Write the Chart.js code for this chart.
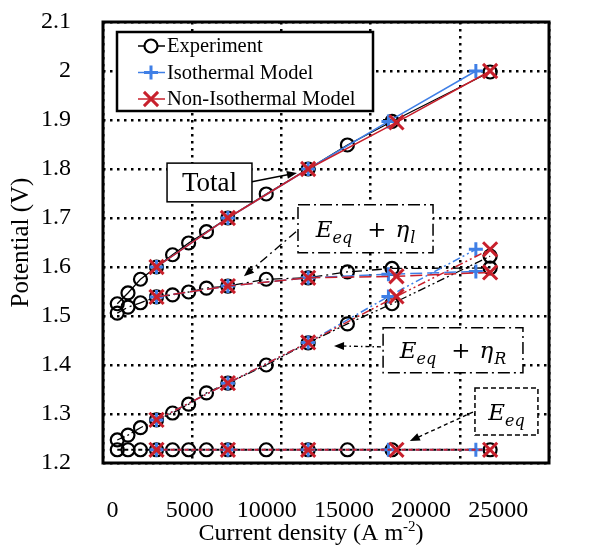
<!DOCTYPE html>
<html>
<head>
<meta charset="utf-8">
<script src="https://cdn.jsdelivr.net/npm/chart.js@4.4.1/dist/chart.umd.min.js"></script>
<style>
    html, body { margin: 0; padding: 0; background: #fff; }
</style>
</head>
<body>
<canvas id="myChart" width="589" height="547"></canvas>
<script>
// Current density (A m-2) of the measured points and of both models
const expCurrent = [800, 1400, 2100, 3000, 3900, 4800, 5800, 7000, 9150, 11500, 13700, 16200, 21700];
const isoCurrent = [3000, 7000, 11500, 16000, 20900];
const nonIsoCurrent = [3000, 7000, 11500, 16450, 21700];

// Potential (V): total cell voltage
const expTotal = [1.525, 1.547, 1.575, 1.600, 1.625, 1.649, 1.672, 1.700, 1.749, 1.800, 1.849, 1.897, 1.998];
const isoTotal = [1.600, 1.700, 1.800, 1.897, 2.000];
const nonIsoTotal = [1.600, 1.700, 1.800, 1.895, 2.000];

// Eeq + ohmic overpotential
const expOhmic = [1.506, 1.518, 1.527, 1.539, 1.543, 1.549, 1.557, 1.561, 1.575, 1.578, 1.590, 1.597, 1.598];
const isoOhmic = [1.539, 1.561, 1.578, 1.585, 1.591];
const nonIsoOhmic = [1.539, 1.561, 1.578, 1.581, 1.589];

// Eeq + reaction overpotential
const expReaction = [1.247, 1.257, 1.272, 1.288, 1.302, 1.320, 1.343, 1.363, 1.400, 1.445, 1.484, 1.525, 1.622];
const isoReaction = [1.288, 1.363, 1.446, 1.540, 1.636];
const nonIsoReaction = [1.288, 1.363, 1.446, 1.540, 1.636];

// Equilibrium potential
const expEq = [1.227, 1.227, 1.227, 1.227, 1.227, 1.227, 1.227, 1.227, 1.227, 1.227, 1.227, 1.227, 1.227];
const isoEq = [1.227, 1.227, 1.227, 1.227, 1.227];
const nonIsoEq = [1.227, 1.227, 1.227, 1.227, 1.227];

const xTickValues = [0, 5000, 10000, 15000, 20000, 25000];
const xTickLabels = ['0', '5000', '10000', '15000', '20000', '25000'];
const yTickValues = [1.2, 1.3, 1.4, 1.5, 1.6, 1.7, 1.8, 1.9, 2.0, 2.1];
const yTickLabels = ['1.2', '1.3', '1.4', '1.5', '1.6', '1.7', '1.8', '1.9', '2', '2.1'];

const seriesNames = ['Experiment', 'Isothermal Model', 'Non-Isothermal Model'];

const BLACK = '#000000';
const BLUE = '#3f7fe6';
const RED = '#c8202c';
const SERIF = '"Liberation Serif", "Times New Roman", serif';
const MATH = '"DejaVu Serif", serif';

const points = (xs, ys) => xs.map((x, i) => ({ x: x, y: ys[i] }));

// Four groups of curves, each with experiment + two models
const groups = [
    { exp: expTotal, iso: isoTotal, nonIso: nonIsoTotal, expDash: [], modelDash: [], width: 1.5 },
    { exp: expOhmic, iso: isoOhmic, nonIso: nonIsoOhmic, expDash: [10, 4, 2, 4], modelDash: [12, 5], width: 1.5 },
    { exp: expReaction, iso: isoReaction, nonIso: nonIsoReaction, expDash: [8, 3, 2, 3, 2, 3], modelDash: [8, 3, 2, 3, 2, 3], width: 1.5 },
    { exp: expEq, iso: isoEq, nonIso: nonIsoEq, expDash: [4, 3], modelDash: [4, 3], width: 2 }
];

// marker styles shared by the legend
const styles = [
    { color: BLACK, pointStyle: 'circle', radius: 6.5, pointWidth: 2.2 },
    { color: BLUE, pointStyle: 'cross', radius: 7, pointWidth: 3 },
    { color: RED, pointStyle: 'crossRot', radius: 10, pointWidth: 3 }
];

const datasets = [];
groups.forEach(g => {
    const sets = [
        { xs: expCurrent, ys: g.exp, dash: g.expDash, order: 3 },
        { xs: isoCurrent, ys: g.iso, dash: g.modelDash, order: 2 },
        { xs: nonIsoCurrent, ys: g.nonIso, dash: g.modelDash, order: 1 }
    ];
    sets.forEach((s, k) => {
        const st = styles[k];
        datasets.push({
            label: seriesNames[k],
            data: points(s.xs, s.ys),
            showLine: true,
            borderColor: st.color,
            borderWidth: k === 0 ? g.width - 0.2 : g.width,
            borderDash: s.dash,
            pointStyle: st.pointStyle,
            pointRadius: st.radius,
            pointBorderWidth: st.pointWidth,
            pointBorderColor: st.color,
            pointBackgroundColor: 'rgba(0,0,0,0)',
            order: s.order
        });
    });
});

// Boxed labels with arrows, positioned in data units
const callouts = [
    { box: [3590, 1.812, 8350, 1.733], dash: [], text: 'Total', arrow: [8350, 1.774, 10870, 1.792], arrowDash: [] },
    { box: [10930, 1.727, 18500, 1.629], dash: [12, 4, 2, 4], math: ['E', 'eq', 'η', 'l'], arrow: [10820, 1.672, 7900, 1.581], arrowDash: [9, 4, 2, 4] },
    { box: [15700, 1.476, 23540, 1.384], dash: [12, 4, 2, 4], math: ['E', 'eq', 'η', 'R'], arrow: [15580, 1.437, 12950, 1.439], arrowDash: [4, 3, 1.5, 3] },
    { box: [20850, 1.353, 24380, 1.257], dash: [5, 3], math: ['E', 'eq'], arrow: [20740, 1.304, 17200, 1.245], arrowDash: [4, 3] }
];

function drawArrow(c, x1, y1, x2, y2, dash) {
    const a = Math.atan2(y2 - y1, x2 - x1);
    const len = 10, half = 4;
    c.save();
    c.lineWidth = 1.4;
    c.setLineDash(dash);
    c.beginPath();
    c.moveTo(x1, y1);
    c.lineTo(x2 - Math.cos(a) * len * 0.7, y2 - Math.sin(a) * len * 0.7);
    c.stroke();
    c.setLineDash([]);
    c.beginPath();
    c.moveTo(x2, y2);
    c.lineTo(x2 - len * Math.cos(a) + half * Math.sin(a), y2 - len * Math.sin(a) - half * Math.cos(a));
    c.lineTo(x2 - len * Math.cos(a) - half * Math.sin(a), y2 - len * Math.sin(a) + half * Math.cos(a));
    c.closePath();
    c.fill();
    c.restore();
}

// E_eq (+ eta_x) written with subscripts
function drawMath(c, parts, cx, cy) {
    const main = 'italic 23px ' + MATH;
    const sub = 'italic 16px ' + MATH;
    const runs = [
        { t: parts[0], font: main, dy: 0, gap: 0 },
        { t: parts[1], font: sub, dy: 6, gap: 0 }
    ];
    if (parts.length > 2) {
        runs.push({ t: '+', font: '23px ' + MATH, dy: 0, gap: 15 });
        runs.push({ t: parts[2], font: main, dy: 0, gap: 9 });
        runs.push({ t: parts[3], font: sub, dy: 6, gap: 1 });
    }
    let w = 0;
    runs.forEach(r => { c.font = r.font; r.w = c.measureText(r.t).width; w += r.w + r.gap; });
    let x = cx - w / 2;
    c.textBaseline = 'alphabetic';
    c.textAlign = 'left';
    runs.forEach(r => {
        x += r.gap;
        c.font = r.font;
        c.fillText(r.t, x, cy + 8 + r.dy);
        x += r.w;
    });
}

function drawMarker(c, k, x, y) {
    const st = styles[k];
    Chart.helpers.drawPoint(c, { pointStyle: st.pointStyle, radius: st.radius, borderWidth: st.pointWidth, rotation: 0 }, x, y);
}

const decorations = {
    id: 'decorations',
    afterDatasetsDraw(chart) {
        const c = chart.ctx;
        const area = chart.chartArea;
        const xs = chart.scales.x, ys = chart.scales.y;
        c.save();

        // plot frame
        c.strokeStyle = BLACK;
        c.lineWidth = 3;
        c.strokeRect(area.left, area.top, area.right - area.left, area.bottom - area.top);

        // callout boxes and arrows
        callouts.forEach(co => {
            const l = xs.getPixelForValue(co.box[0]), t = ys.getPixelForValue(co.box[1]);
            const r = xs.getPixelForValue(co.box[2]), b = ys.getPixelForValue(co.box[3]);
            c.fillStyle = '#fff';
            c.fillRect(l, t, r - l, b - t);
            c.strokeStyle = BLACK;
            c.lineWidth = 1.5;
            c.setLineDash(co.dash);
            c.strokeRect(l, t, r - l, b - t);
            c.setLineDash([]);
            c.fillStyle = BLACK;
            if (co.text) {
                c.font = '27px ' + SERIF;
                c.textAlign = 'center';
                c.textBaseline = 'middle';
                c.fillText(co.text, (l + r) / 2, (t + b) / 2 + 1);
            } else {
                drawMath(c, co.math, (l + r) / 2, (t + b) / 2);
            }
            drawArrow(c, xs.getPixelForValue(co.arrow[0]), ys.getPixelForValue(co.arrow[1]),
                xs.getPixelForValue(co.arrow[2]), ys.getPixelForValue(co.arrow[3]), co.arrowDash);
        });

        // legend box
        const lx = area.left + 14, ly = area.top + 10, lw = 256, lh = 79;
        c.fillStyle = '#fff';
        c.fillRect(lx, ly, lw, lh);
        c.strokeStyle = BLACK;
        c.lineWidth = 2.5;
        c.strokeRect(lx, ly, lw, lh);
        seriesNames.forEach((name, k) => {
            const y = ly + 14 + k * 26.5;
            const st = styles[k];
            c.strokeStyle = st.color;
            c.lineWidth = 1.5;
            c.beginPath();
            c.moveTo(lx + 21, y);
            c.lineTo(lx + 48, y);
            c.stroke();
            c.save();
            c.strokeStyle = st.color;
            c.lineWidth = st.pointWidth;
            drawMarker(c, k, lx + 34, y);
            c.restore();
            c.fillStyle = BLACK;
            c.font = '20.5px ' + SERIF;
            c.textAlign = 'left';
            c.textBaseline = 'middle';
            c.fillText(name, lx + 50, y + 1);
        });

        // x axis title with superscript unit
        c.fillStyle = BLACK;
        c.textBaseline = 'alphabetic';
        c.textAlign = 'left';
        c.font = '24px ' + SERIF;
        const part1 = 'Current density (A m', sup = '-2', part2 = ')';
        const w1 = c.measureText(part1).width, w3 = c.measureText(part2).width;
        c.font = '15px ' + SERIF;
        const w2 = c.measureText(sup).width;
        let tx = 311 - (w1 + w2 + w3) / 2;
        const base = 540;
        c.font = '24px ' + SERIF;
        c.fillText(part1, tx, base);
        c.font = '15px ' + SERIF;
        c.fillText(sup, tx + w1, base - 9);
        c.font = '24px ' + SERIF;
        c.fillText(part2, tx + w1 + w2, base);
        c.restore();
    }
};

const gridDots = { color: BLACK, lineWidth: 2.5, drawTicks: false };

new Chart(document.getElementById('myChart').getContext('2d'), {
    type: 'scatter',
    data: { datasets: datasets },
    plugins: [decorations],
    options: {
        responsive: false,
        animation: false,
        layout: { padding: { top: 22, right: 40, left: 0, bottom: 0 } },
        plugins: { legend: { display: false }, tooltip: { enabled: false } },
        scales: {
            x: {
                type: 'linear',
                position: 'bottom',
                min: 0,
                max: 25000,
                afterBuildTicks: scale => { scale.ticks = xTickValues.map(v => ({ value: v })); },
                afterFit: scale => { scale.height = 0; },
                ticks: { display: false },
                grid: gridDots,
                border: { display: false, dash: [2.5, 4.5] }
            },
            // tick labels of the current density axis
            xLabels: {
                type: 'linear',
                position: 'bottom',
                min: -620,
                max: 28290,
                afterBuildTicks: scale => { scale.ticks = xTickValues.map(v => ({ value: v })); },
                afterFit: scale => { scale.height = 84; scale.paddingLeft = 0; scale.paddingRight = 0; },
                ticks: {
                    padding: 25,
                    color: BLACK,
                    font: { family: SERIF, size: 24 },
                    callback: (value, index) => xTickLabels[index]
                },
                grid: { display: false },
                border: { display: false }
            },
            y: {
                min: 1.2,
                max: 2.1,
                afterBuildTicks: scale => { scale.ticks = yTickValues.map(v => ({ value: v })); },
                afterFit: scale => { scale.width = 103; scale.paddingTop = 0; scale.paddingBottom = 0; },
                ticks: {
                    padding: 32,
                    color: BLACK,
                    font: { family: SERIF, size: 24 },
                    callback: (value, index) => yTickLabels[index]
                },
                grid: gridDots,
                border: { display: false, dash: [2.5, 4.5] },
                title: {
                    display: true,
                    text: 'Potential (V)',
                    color: BLACK,
                    font: { family: SERIF, size: 25 },
                    padding: { top: 6, bottom: 0 }
                }
            }
        }
    }
});
</script>
</body>
</html>
